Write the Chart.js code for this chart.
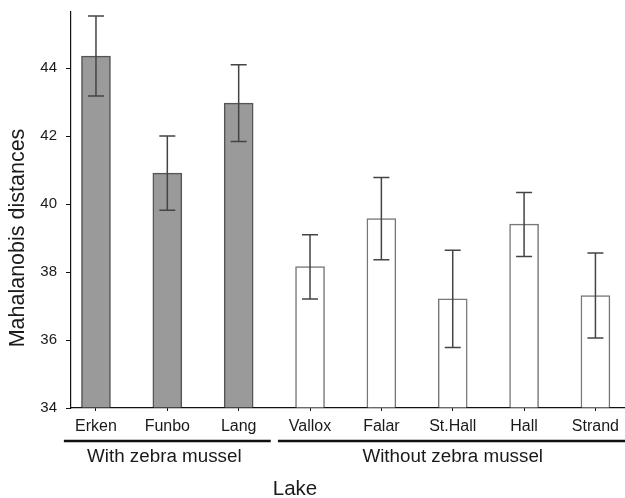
<!DOCTYPE html>
<html>
<head>
<meta charset="utf-8">
<script src="https://cdn.jsdelivr.net/npm/chart.js@4.4.1/dist/chart.umd.min.js"></script>
<style>
  body { margin: 0; background: #fff; }
</style>
</head>
<body>
<canvas id="myChart" width="625" height="498"></canvas>
<script>
  // values
  var lakes = ['Erken', 'Funbo', 'Lang', 'Vallox', 'Falar', 'St.Hall', 'Hall', 'Strand'];
  var means = [44.35, 40.91, 42.97, 38.16, 39.57, 37.21, 39.41, 37.31];
  var upper = [45.53, 42.00, 44.10, 39.10, 40.78, 38.64, 40.34, 38.56];
  var lower = [43.18, 39.82, 41.84, 37.21, 38.36, 35.78, 38.46, 36.06];
  var withMussel = [true, true, true, false, false, false, false, false];
  var groupNames = ['With zebra mussel', 'Without zebra mussel'];
  var groupFirst = [0, 3];
  var groupLast = [2, 7];
  var yTicks = [34, 36, 38, 40, 42, 44];

  var font = "'Liberation Sans', Arial, sans-serif";

  var points = lakes.map(function (name, i) { return { x: i, y: means[i] }; });

  // error bars + group lines + titles
  var extras = {
    id: 'extras',
    afterDatasetsDraw: function (chart) {
      var ctx = chart.ctx;
      var xs = chart.scales.x, ys = chart.scales.y;
      ctx.save();
      ctx.strokeStyle = '#444';
      ctx.lineWidth = 1.5;
      for (var i = 0; i < lakes.length; i++) {
        var x = xs.getPixelForValue(i);
        var yt = ys.getPixelForValue(upper[i]);
        var yb = ys.getPixelForValue(lower[i]);
        ctx.beginPath();
        ctx.moveTo(x, yt); ctx.lineTo(x, yb);
        ctx.moveTo(x - 8, yt); ctx.lineTo(x + 8, yt);
        ctx.moveTo(x - 8, yb); ctx.lineTo(x + 8, yb);
        ctx.stroke();
      }
      ctx.restore();
    },
    afterDraw: function (chart) {
      var ctx = chart.ctx;
      var xs = chart.scales.x;
      ctx.save();
      ctx.fillStyle = '#1a1a1a';
      ctx.strokeStyle = '#111';
      ctx.lineWidth = 2.5;
      ctx.textAlign = 'center';
      ctx.textBaseline = 'middle';
      for (var g = 0; g < groupNames.length; g++) {
        var x0 = xs.getPixelForValue(groupFirst[g] - 0.45);
        var x1 = xs.getPixelForValue(groupLast[g] + 0.45);
        ctx.beginPath();
        ctx.moveTo(x0, 441); ctx.lineTo(x1, 441);
        ctx.stroke();
        var xm = xs.getPixelForValue((groupFirst[g] + groupLast[g]) / 2);
        ctx.font = '18.8px ' + font;
        ctx.fillText(groupNames[g], xm - (g === 0 ? 3 : 0), 457);
      }
      ctx.font = '20.5px ' + font;
      ctx.fillText('Lake', 295, 489);
      ctx.translate(18, 238);
      ctx.rotate(-Math.PI / 2);
      ctx.font = '21.5px ' + font;
      ctx.fillText('Mahalanobis distances', 0, 0);
      ctx.restore();
    }
  };

  var ctx = document.getElementById('myChart').getContext('2d');
  var myChart = new Chart(ctx, {
    type: 'bar',
    data: {
      datasets: [{
        data: points,
        base: 34,
        barThickness: 29,
        backgroundColor: withMussel.map(function (w) { return w ? '#9a9a9a' : '#ffffff'; }),
        borderColor: withMussel.map(function (w) { return w ? '#555555' : '#777777'; }),
        borderWidth: 1.5,
        borderSkipped: 'start'
      }]
    },
    options: {
      responsive: false,
      animation: false,
      devicePixelRatio: 1,
      layout: { padding: { top: 12, left: 0, right: 0, bottom: 0 } },
      plugins: {
        legend: { display: false },
        tooltip: { enabled: false }
      },
      scales: {
        x: {
          type: 'linear',
          offset: false,
          min: -0.35,
          max: 7.41,
          afterBuildTicks: function (scale) {
            scale.ticks = lakes.map(function (n, i) { return { value: i }; });
          },
          afterFit: function (scale) { scale.height = 90; },
          grid: { display: true, offset: false, drawOnChartArea: false, drawTicks: true, tickLength: 3, color: '#111' },
          border: { display: true, color: '#111', width: 1.2 },
          ticks: {
            autoSkip: false,
            maxRotation: 0,
            padding: 6,
            color: '#1a1a1a',
            font: { family: font, size: 16 },
            callback: function (v) { return lakes[Math.round(v)]; }
          }
        },
        y: {
          min: 34,
          max: 45.65,
          afterBuildTicks: function (scale) {
            scale.ticks = yTicks.map(function (v) { return { value: v }; });
          },
          afterFit: function (scale) {
            scale.width = 71;
            scale.paddingTop = 0;
            scale.paddingBottom = 0;
          },
          grid: { display: true, drawOnChartArea: false, drawTicks: true, tickLength: 5, color: '#111' },
          border: { display: true, color: '#111', width: 1.2 },
          ticks: {
            padding: 9,
            color: '#1a1a1a',
            font: { family: font, size: 15 }
          }
        }
      }
    },
    plugins: [extras]
  });
</script>
</body>
</html>
